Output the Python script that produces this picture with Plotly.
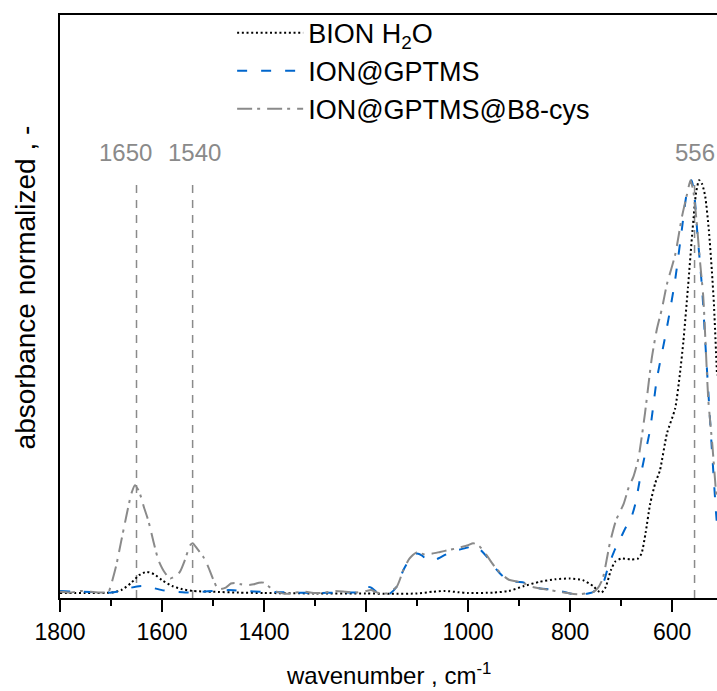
import plotly.graph_objects as go

# ---------------- data ----------------
bion_wn = [1800, 1750, 1700, 1680, 1660, 1645, 1630, 1615, 1600, 1580, 1560, 1540, 1500, 1450,
           1400, 1300, 1200, 1150, 1100, 1070, 1045, 1020, 1000, 950, 920, 890, 860, 830, 800,
           775, 755, 745, 738, 730, 720, 712, 700, 680, 667, 660, 652, 643, 633, 624, 610, 594,
           585, 578, 569, 560, 553, 547, 541, 535, 528, 522, 518, 512]
bion_abs = [0.005, 0.005, 0.006, 0.012, 0.03, 0.048, 0.056, 0.05, 0.036, 0.022, 0.014, 0.01, 0.008,
            0.006, 0.005, 0.004, 0.004, 0.003, 0.004, 0.008, 0.010, 0.007, 0.005, 0.006, 0.01,
            0.022, 0.032, 0.038, 0.040, 0.036, 0.022, 0.01, 0.006, 0.02, 0.06, 0.08, 0.088,
            0.086, 0.088, 0.10, 0.15, 0.22, 0.27, 0.30, 0.39, 0.45, 0.53, 0.61, 0.74, 0.88, 0.97,
            1.0, 0.99, 0.96, 0.88, 0.78, 0.70, 0.53]

gptms_wn = [1800, 1760, 1720, 1700, 1680, 1660, 1640, 1620, 1600, 1560, 1540, 1520, 1500, 1470,
            1440, 1400, 1370, 1340, 1300, 1250, 1210, 1200, 1190, 1180, 1170, 1155, 1140, 1127,
            1115, 1101, 1090, 1081, 1070, 1061, 1040, 1022, 1000, 990, 978, 963, 950, 934, 920,
            905, 890, 875, 859, 840, 820, 800, 780, 765, 754, 745, 735, 725, 712, 700, 690, 682,
            672, 663, 653, 643, 630, 614, 605, 594, 581, 571, 562, 556, 551, 541, 535, 529, 523,
            514, 512]
gptms_abs = [0.01, 0.008, 0.007, 0.006, 0.01, 0.018, 0.022, 0.018, 0.012, 0.007, 0.006, 0.008,
             0.01, 0.012, 0.01, 0.008, 0.007, 0.006, 0.005, 0.006, 0.008, 0.02, 0.018, 0.008,
             0.002, 0.002, 0.02, 0.06, 0.085, 0.10, 0.095, 0.085, 0.083, 0.087, 0.10, 0.108,
             0.115, 0.12, 0.112, 0.092, 0.07, 0.048, 0.036, 0.032, 0.03, 0.022, 0.016, 0.014,
             0.01, 0.004, 0.001, 0.004, 0.008, 0.02, 0.03, 0.07, 0.11, 0.14, 0.165, 0.18, 0.22,
             0.28, 0.34, 0.40, 0.52, 0.62, 0.68, 0.76, 0.88, 0.97, 1.0, 0.96, 0.88, 0.735, 0.61,
             0.49, 0.37, 0.20, 0.17]

cys_wn = [1800, 1780, 1760, 1740, 1720, 1705, 1700, 1690, 1680, 1670, 1660, 1653, 1645, 1635,
          1627, 1617, 1607, 1595, 1584, 1575, 1565, 1555, 1545, 1540, 1530, 1519, 1510, 1499,
          1490, 1475, 1465, 1457, 1445, 1434, 1420, 1410, 1401, 1392, 1382, 1370, 1355, 1340,
          1320, 1300, 1280, 1260, 1240, 1220, 1200, 1190, 1175, 1160, 1140, 1127, 1115, 1101,
          1085, 1070, 1055, 1040, 1022, 1000, 990, 978, 963, 950, 934, 920, 905, 890, 875, 859,
          840, 820, 800, 780, 765, 754, 745, 736, 722, 710, 695, 685, 676, 666, 653, 640, 630,
          620, 610, 594, 581, 570, 564, 558, 552, 545, 539, 529, 521, 514, 512]
cys_abs = [0.008, 0.006, 0.01, 0.008, 0.006, 0.008, 0.024, 0.07, 0.13, 0.19, 0.245, 0.265, 0.25,
           0.21, 0.18, 0.13, 0.084, 0.055, 0.04, 0.045, 0.056, 0.085, 0.12, 0.125, 0.11, 0.092,
           0.07, 0.036, 0.014, 0.018, 0.028, 0.029, 0.026, 0.024, 0.026, 0.03, 0.03, 0.022,
           0.012, 0.006, 0.003, 0.006, 0.008, 0.005, 0.006, 0.01, 0.008, 0.006, 0.01, 0.012,
           0.005, 0.004, 0.02, 0.06, 0.088, 0.103, 0.098, 0.1, 0.104, 0.108, 0.113, 0.12, 0.125,
           0.118, 0.095, 0.072, 0.05, 0.037, 0.033, 0.028, 0.02, 0.016, 0.012, 0.008, 0.004,
           0.002, 0.005, 0.008, 0.018, 0.04, 0.125, 0.18, 0.22, 0.26, 0.285, 0.33, 0.44, 0.57,
           0.64, 0.69, 0.75, 0.82, 0.91, 0.97, 1.0, 0.97, 0.90, 0.80, 0.72, 0.47, 0.36, 0.25,
           0.23]

marker_wn = [1650, 1540, 556]
marker_labels = ["1650", "1540", "556"]
marker_label_shift = [-11, 2, 0]
marker_top = 1.0

x_tickvals = [1800, 1600, 1400, 1200, 1000, 800, 600]
x_range = [1800, 512]
y_range = [-0.007, 1.398]

FONT = "Liberation Sans, Arial, sans-serif"
GRAY = "#8a8a8a"

fig = go.Figure()
fig.add_trace(go.Scatter(x=bion_wn, y=bion_abs, mode="lines", name="BION H<sub>2</sub>O",
                         line=dict(color="black", width=2, dash="2px,2.7px", shape="spline", smoothing=0.6)))
fig.add_trace(go.Scatter(x=gptms_wn, y=gptms_abs, mode="lines", name="ION@GPTMS",
                         line=dict(color="#0066CC", width=2, dash="10px,14px", shape="spline", smoothing=0.6)))
fig.add_trace(go.Scatter(x=cys_wn, y=cys_abs, mode="lines", name="ION@GPTMS@B8-cys",
                         line=dict(color=GRAY, width=2, dash="15px,5px,3px,7px", shape="spline", smoothing=0.6)))

for wn, lab, sh in zip(marker_wn, marker_labels, marker_label_shift):
    fig.add_shape(type="line", xref="x", yref="y", x0=wn, x1=wn, y0=y_range[0], y1=marker_top,
                  line=dict(color=GRAY, width=1.5, dash="8px,7px"), layer="below")
    fig.add_annotation(x=wn, y=1.067, xref="x", yref="y", text=lab, showarrow=False, xshift=sh,
                       font=dict(family=FONT, size=24, color=GRAY), xanchor="center", yanchor="middle")

fig.add_annotation(x=0.5, y=-0.130, xref="paper", yref="paper", text="wavenumber , cm<sup>-1</sup>",
                   showarrow=False, font=dict(family=FONT, size=24, color="black"),
                   xanchor="center", yanchor="middle")
fig.add_annotation(x=-0.053, y=0.533, xref="paper", yref="paper", text="absorbance normalized , -",
                   textangle=-90, showarrow=False, font=dict(family=FONT, size=28, color="black"),
                   xanchor="center", yanchor="middle")

fig.update_layout(
    width=717, height=691,
    margin=dict(l=60, r=0, t=15, b=93),
    plot_bgcolor="white", paper_bgcolor="white",
    font=dict(family=FONT, color="black"),
    showlegend=True,
    legend=dict(x=0.262, y=1.011, xanchor="left", yanchor="top", bgcolor="rgba(0,0,0,0)",
                font=dict(family=FONT, size=27, color="black"), itemwidth=66,
                tracegroupgap=0),
)
fig.update_xaxes(range=x_range, tickvals=x_tickvals, showline=True, linecolor="black", linewidth=2,
                 mirror=True, ticks="outside", ticklen=12, tickwidth=2, tickcolor="black",
                 tickfont=dict(family=FONT, size=23, color="black"), showgrid=False, zeroline=False,
                 minor=dict(dtick=100, tick0=0, ticks="outside", ticklen=6, tickwidth=2, tickcolor="black",
                            showgrid=False))
fig.update_yaxes(range=y_range, showline=True, linecolor="black", linewidth=2, mirror=False,
                 showticklabels=False, ticks="", showgrid=False, zeroline=False)

fig.write_html("out.html")
